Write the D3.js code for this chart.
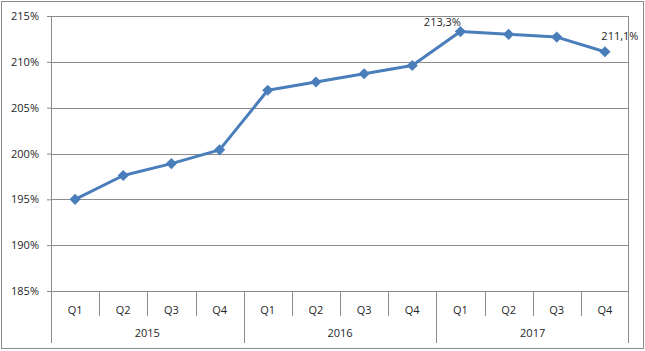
<!DOCTYPE html>
<html>
<head>
<meta charset="utf-8">
<script src="https://cdn.jsdelivr.net/npm/d3@7"></script>
<style>
  body { margin: 0; background: #fff; }
  text { font-family: "Open Sans", "Liberation Sans", sans-serif; fill: #262626; }
</style>
</head>
<body>
<div id="chart"></div>
<script>
// data
var years = ["2015", "2016", "2017"];
var quarters = ["Q1", "Q2", "Q3", "Q4"];
var values = [195.0, 197.6, 198.9, 200.4, 206.9, 207.8, 208.7, 209.6, 213.3, 213.0, 212.7, 211.1];
var yTicks = [185, 190, 195, 200, 205, 210, 215];
var labelled = [8, 11]; // points that carry a value label

var W = 645, H = 351;
var margin = {top: 16, right: 16, bottom: 60, left: 51},
    width = 629 - margin.left,
    height = 291 - margin.top;

var svg = d3.select("#chart").append("svg")
    .attr("width", W).attr("height", H);

// outer frame
svg.append("rect")
    .attr("x", 1.5).attr("y", 1.5)
    .attr("width", W - 3).attr("height", H - 4)
    .attr("fill", "none").attr("stroke", "#8c8c8c");

var g = svg.append("g")
    .attr("transform", "translate(" + margin.left + "," + margin.top + ")");

// one entry per quarter
var data = [];
years.forEach(function(yr, i) {
  quarters.forEach(function(q, j) {
    data.push({year: yr, q: q, key: yr + q, value: values[i * 4 + j]});
  });
});

var x = d3.scaleBand()
    .domain(data.map(function(d) { return d.key; }))
    .range([0, width]);

var y = d3.scaleLinear()
    .domain([185, 215])
    .range([height, 0]);

var fr = d3.formatLocale({decimal: ",", thousands: " ", grouping: [3], currency: ["", ""]});

// y axis ticks + labels
var yAxis = g.append("g")
    .call(d3.axisLeft(y).tickValues(yTicks).tickSize(4).tickFormat(function(d) { return d + "%"; }));
yAxis.select(".domain").remove();
yAxis.selectAll(".tick line").attr("stroke", "#868686");
yAxis.selectAll(".tick text").attr("x", -12).style("font-size", "11px").attr("fill", "#262626");

// gridlines
g.append("g")
  .selectAll("line")
  .data(yTicks)
  .enter().append("line")
    .attr("x1", 0).attr("x2", width)
    .attr("y1", function(d) { return Math.round(y(d)) + 0.5; })
    .attr("y2", function(d) { return Math.round(y(d)) + 0.5; })
    .attr("stroke", "#8c8c8c");

// left and right vertical axis lines
g.append("line")
    .attr("x1", 0.5).attr("x2", 0.5)
    .attr("y1", 0).attr("y2", height + 52)
    .attr("stroke", "#8c8c8c");
g.append("line")
    .attr("x1", width - 0.5).attr("x2", width - 0.5)
    .attr("y1", 0).attr("y2", height + 52)
    .attr("stroke", "#8c8c8c");

// quarter separators and year separators
var bottom = g.append("g").attr("transform", "translate(0," + height + ")");
bottom.selectAll(".sep")
  .data(data.slice(1))
  .enter().append("line")
    .attr("x1", function(d) { return Math.round(x(d.key)) + 0.5; })
    .attr("x2", function(d) { return Math.round(x(d.key)) + 0.5; })
    .attr("y1", 0)
    .attr("y2", function(d) { return d.q == "Q1" ? 52 : 25; })
    .attr("stroke", "#8c8c8c");

bottom.selectAll(".qlab")
  .data(data)
  .enter().append("text")
    .attr("x", function(d) { return x(d.key) + x.bandwidth() / 2; })
    .attr("y", 23)
    .attr("text-anchor", "middle")
    .style("font-size", "11px")
    .text(function(d) { return d.q; });

bottom.selectAll(".ylab")
  .data(years)
  .enter().append("text")
    .attr("x", function(d) { return x(d + "Q1") + x.bandwidth() * 2; })
    .attr("y", 46)
    .attr("text-anchor", "middle")
    .style("font-size", "11px")
    .text(function(d) { return d; });

// the line
var lineColor = "#4a7ebb";
g.append("path")
    .datum(data)
    .attr("d", d3.line()
      .x(function(d) { return x(d.key) + x.bandwidth() / 2; })
      .y(function(d) { return y(d.value); }))
    .attr("fill", "none")
    .attr("stroke", lineColor)
    .attr("stroke-width", 3)
    .attr("stroke-linejoin", "round");

g.selectAll(".pt")
  .data(data)
  .enter().append("path")
    .attr("d", d3.symbol().type(d3.symbolDiamond2).size(80))
    .attr("transform", function(d) {
      return "translate(" + (x(d.key) + x.bandwidth() / 2) + "," + y(d.value) + ")";
    })
    .attr("fill", lineColor);

// value labels
var offsets = {8: [-18, -6], 11: [15, -12]};
g.selectAll(".vlab")
  .data(labelled)
  .enter().append("text")
    .attr("x", function(i) { return x(data[i].key) + x.bandwidth() / 2 + offsets[i][0]; })
    .attr("y", function(i) { return y(data[i].value) + offsets[i][1]; })
    .attr("text-anchor", "middle")
    .style("font-size", "11px")
    .text(function(i) { return fr.format(".1f")(data[i].value) + "%"; });
</script>
</body>
</html>
